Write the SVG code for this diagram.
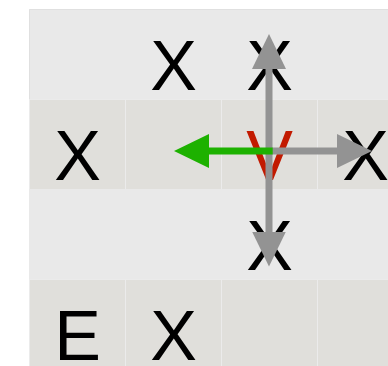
<svg xmlns="http://www.w3.org/2000/svg" width="388" height="366" viewBox="0 0 388 366">
<style>
.a{fill:#e9e9e9;stroke:#e9e9e9;stroke-width:1}
.b{fill:#e0dfdb;stroke:#ebebeb;stroke-width:1}
.t{font-family:"Liberation Sans",Arial,sans-serif;font-size:70px;text-anchor:middle;fill:#000}
.r{fill:#c21a00}
.g{stroke:#939393;stroke-width:7;fill:none}
.gr{stroke:#1db100;stroke-width:7;fill:none}
</style>
<defs>
<marker id="hg" markerUnits="userSpaceOnUse" viewBox="0 0 35 34" markerWidth="35" markerHeight="34" refX="0.5" refY="17" orient="auto"><path d="M0,0L35,17L0,34Z" fill="#939393"/></marker>
<marker id="hgr" markerUnits="userSpaceOnUse" viewBox="0 0 35 34" markerWidth="35" markerHeight="34" refX="0.5" refY="17" orient="auto"><path d="M0,0L35,17L0,34Z" fill="#1db100"/></marker>
</defs>
<rect x="0" y="0" width="388" height="366" fill="#fff"/>
<g id="r0c0"><rect class="a" x="29.5" y="9.5" width="96" height="90"/></g>
<g id="r0c1"><rect class="a" x="125.5" y="9.5" width="96" height="90"/><text class="t" x="173.5" y="90">X</text></g>
<g id="r0c2"><rect class="a" x="221.5" y="9.5" width="96" height="90"/><text class="t" x="269.5" y="90">X</text></g>
<g id="r0c3"><rect class="a" x="317.5" y="9.5" width="96" height="90"/></g>
<g id="r1c0"><rect class="b" x="29.5" y="99.5" width="96" height="90"/><text class="t" x="77.5" y="180">X</text></g>
<g id="r1c1"><rect class="b" x="125.5" y="99.5" width="96" height="90"/></g>
<g id="r1c2"><rect class="b" x="221.5" y="99.5" width="96" height="90"/><text class="t r" x="269.5" y="180">V</text></g>
<g id="r1c3"><rect class="b" x="317.5" y="99.5" width="96" height="90"/><text class="t" x="365.5" y="180">X</text></g>
<g id="r2c0"><rect class="a" x="29.5" y="189.5" width="96" height="90"/></g>
<g id="r2c1"><rect class="a" x="125.5" y="189.5" width="96" height="90"/></g>
<g id="r2c2"><rect class="a" x="221.5" y="189.5" width="96" height="90"/><text class="t" x="269.5" y="269.5">X</text></g>
<g id="r2c3"><rect class="a" x="317.5" y="189.5" width="96" height="90"/></g>
<g id="r3c0"><rect class="b" x="29.5" y="279.5" width="96" height="90"/><text class="t" x="77.5" y="359.5">E</text></g>
<g id="r3c1"><rect class="b" x="125.5" y="279.5" width="96" height="90"/><text class="t" x="173.5" y="359.5">X</text></g>
<g id="r3c2"><rect class="b" x="221.5" y="279.5" width="96" height="90"/></g>
<g id="r3c3"><rect class="b" x="317.5" y="279.5" width="96" height="90"/></g>
<path d="M29.5,99V9.5H388" fill="none" stroke="#e0e0e0" stroke-width="1"/>
<g id="connectors">
<path class="g" d="M269,151V68.5" marker-end="url(#hg)"/>
<path class="g" d="M269,151V232" marker-end="url(#hg)"/>
<path class="g" d="M269,151H337.5" marker-end="url(#hg)"/>
<path class="gr" d="M272.7,151H208.5" marker-end="url(#hgr)"/>
</g>
</svg>
